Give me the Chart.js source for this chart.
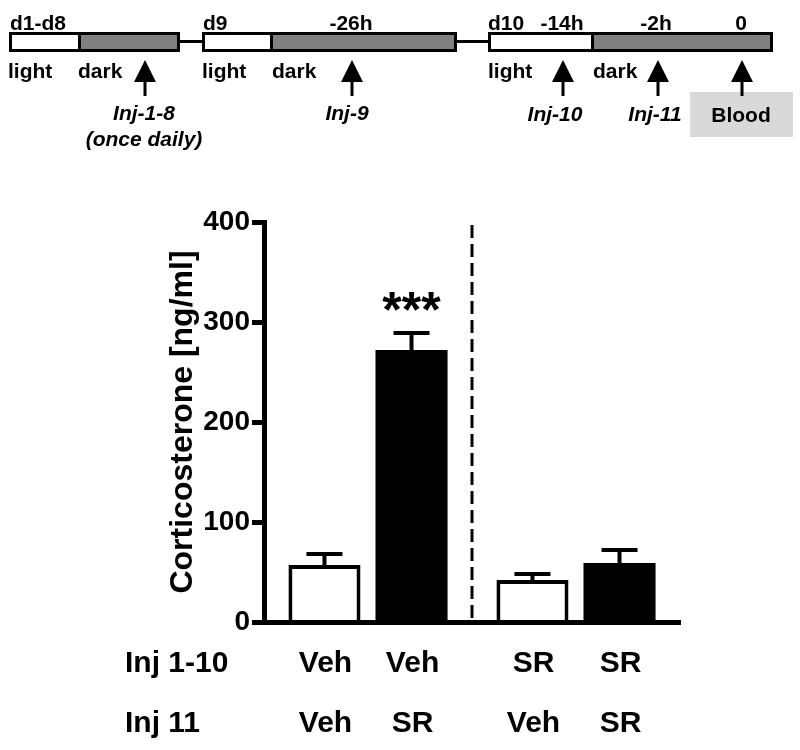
<!DOCTYPE html>
<html>
<head>
<meta charset="utf-8">
<script src="https://cdn.jsdelivr.net/npm/chart.js@4"></script>
<style>
html,body{margin:0;padding:0;background:#fff;}
#wrap{position:relative;width:800px;height:750px;overflow:hidden;font-family:'Liberation Sans',Arial,Helvetica,sans-serif;font-weight:bold;color:#000;}
#chartBox{position:absolute;left:0;top:0;width:800px;height:750px;}
.t{position:absolute;font-size:21px;line-height:1;white-space:nowrap;}
.c{transform:translateX(-50%);}
.i{font-style:italic;}
.seg{position:absolute;top:32px;height:20px;box-sizing:border-box;border:3px solid #000;}
.con{position:absolute;top:40px;height:3px;background:#000;}
.head{position:absolute;top:60px;width:0;height:0;border-left:11px solid transparent;border-right:11px solid transparent;border-bottom:22px solid #000;transform:translateX(-50%);}
.shaft{position:absolute;top:80px;width:3px;height:16px;background:#000;transform:translateX(-50%);}
#blood{position:absolute;left:690px;top:92px;width:103px;height:45px;background:#d9d9d9;}
</style>
</head>
<body>
<div id="wrap">
  <div id="chartBox"><canvas id="c"></canvas></div>

  <!-- timeline -->
  <div class="seg" style="left:9px;width:171px;background:linear-gradient(to right,#fff 0,#fff 66px,#000 66px,#000 69px,#808080 69px);"></div>
  <div class="con" style="left:180px;width:22px;"></div>
  <div class="seg" style="left:202px;width:255px;background:linear-gradient(to right,#fff 0,#fff 65px,#000 65px,#000 68px,#808080 68px);"></div>
  <div class="con" style="left:457px;width:31px;"></div>
  <div class="seg" style="left:488px;width:285px;background:linear-gradient(to right,#fff 0,#fff 100px,#000 100px,#000 103px,#808080 103px);"></div>

  <div class="t" style="left:10px;top:12px;">d1-d8</div>
  <div class="t" style="left:203px;top:12px;">d9</div>
  <div class="t c" style="left:351px;top:12px;">-26h</div>
  <div class="t" style="left:488px;top:12px;">d10</div>
  <div class="t c" style="left:562px;top:12px;">-14h</div>
  <div class="t c" style="left:656px;top:12px;">-2h</div>
  <div class="t c" style="left:741px;top:12px;">0</div>

  <div class="t" style="left:8px;top:60px;">light</div>
  <div class="t" style="left:78px;top:60px;">dark</div>
  <div class="t" style="left:202px;top:60px;">light</div>
  <div class="t" style="left:272px;top:60px;">dark</div>
  <div class="t" style="left:488px;top:60px;">light</div>
  <div class="t" style="left:593px;top:60px;">dark</div>

  <div class="head" style="left:145px;"></div><div class="shaft" style="left:145px;"></div>
  <div class="head" style="left:352px;"></div><div class="shaft" style="left:352px;"></div>
  <div class="head" style="left:563px;"></div><div class="shaft" style="left:563px;"></div>
  <div class="head" style="left:658px;"></div><div class="shaft" style="left:658px;"></div>
  <div id="blood"></div>
  <div class="head" style="left:742px;"></div><div class="shaft" style="left:742px;"></div>

  <div class="t c i" style="left:144px;top:102px;">Inj-1-8</div>
  <div class="t c i" style="left:144px;top:128px;">(once daily)</div>
  <div class="t c i" style="left:347px;top:102px;">Inj-9</div>
  <div class="t c i" style="left:555px;top:103px;">Inj-10</div>
  <div class="t c i" style="left:655px;top:103px;">Inj-11</div>
  <div class="t c" style="left:741px;top:104px;">Blood</div>
</div>

<script>
// ---- data ----
const inj1to10 = ['Veh', 'SR'];          // x categories (Inj 1-10)
const inj11 = ['Veh', 'SR'];             // datasets (Inj 11)
const meanInj11Veh = [57, 42];           // ng/ml
const meanInj11SR = [272, 59];
const semInj11Veh = [11, 6];
const semInj11SR = [17, 13];
const sigInj11Veh = ['', ''];
const sigInj11SR = ['***', ''];
const yTicks = [0, 100, 200, 300, 400];
const rowTitles = ['Inj 1-10', 'Inj 11'];
const yTitle = 'Corticosterone [ng/ml]';

const FONT = "'Liberation Sans', Arial, Helvetica, sans-serif";
const sems = [semInj11Veh, semInj11SR];
const sigs = [sigInj11Veh, sigInj11SR];

const annot = {
  id: 'annot',
  afterDatasetsDraw(chart) {
    const ctx = chart.ctx;
    const y = chart.scales.y;
    const x = chart.scales.x;
    const area = chart.chartArea;
    ctx.save();
    // dashed separator between categories
    const xs = (x.getPixelForValue(0) + x.getPixelForValue(1)) / 2;
    ctx.strokeStyle = '#000';
    ctx.lineWidth = 3;
    ctx.setLineDash([13, 6]);
    ctx.beginPath();
    ctx.moveTo(xs, area.top + 3);
    ctx.lineTo(xs, area.bottom);
    ctx.stroke();
    ctx.setLineDash([]);
    // error bars + significance
    chart.data.datasets.forEach((ds, d) => {
      const meta = chart.getDatasetMeta(d);
      meta.data.forEach((bar, i) => {
        const top = y.getPixelForValue(ds.data[i] + sems[d][i]);
        const base = y.getPixelForValue(ds.data[i]);
        ctx.lineWidth = 4;
        ctx.strokeStyle = '#000';
        ctx.beginPath();
        ctx.moveTo(bar.x, base);
        ctx.lineTo(bar.x, top);
        ctx.moveTo(bar.x - 18, top);
        ctx.lineTo(bar.x + 18, top);
        ctx.stroke();
        if (sigs[d][i]) {
          ctx.fillStyle = '#000';
          ctx.font = 'bold 50px ' + FONT;
          ctx.textAlign = 'center';
          ctx.textBaseline = 'alphabetic';
          ctx.fillText(sigs[d][i], bar.x, top - 6);
        }
      });
    });
    ctx.restore();
  },
  afterDraw(chart) {
    const ctx = chart.ctx;
    ctx.save();
    ctx.fillStyle = '#000';
    ctx.font = 'bold 30px ' + FONT;
    ctx.textBaseline = 'middle';
    const rowsY = [664, 724];
    ctx.textAlign = 'left';
    rowTitles.forEach((t, r) => ctx.fillText(t, 125, rowsY[r]));
    ctx.textAlign = 'center';
    chart.data.datasets.forEach((ds, d) => {
      const meta = chart.getDatasetMeta(d);
      meta.data.forEach((bar, i) => {
        ctx.fillText(chart.data.labels[i], bar.x + 1, rowsY[0]);
        ctx.fillText(inj11[d], bar.x + 1, rowsY[1]);
      });
    });
    ctx.restore();
  }
};

new Chart(document.getElementById('c'), {
  type: 'bar',
  data: {
    labels: inj1to10,
    datasets: [
      { label: inj11[0], data: meanInj11Veh, backgroundColor: '#fff', borderColor: '#000', borderWidth: 4 },
      { label: inj11[1], data: meanInj11SR, backgroundColor: '#000', borderColor: '#000', borderWidth: 0 }
    ]
  },
  options: {
    responsive: true,
    maintainAspectRatio: false,
    animation: false,
    devicePixelRatio: 1,
    layout: { padding: { left: 164, right: 120, top: 222, bottom: 128 } },
    datasets: { bar: { categoryPercentage: 0.837, barPercentage: 0.828 } },
    plugins: { legend: { display: false }, tooltip: { enabled: false } },
    scales: {
      x: {
        offset: true,
        ticks: { display: false },
        grid: { display: false, drawTicks: false },
        border: { display: true, color: '#000', width: 5, z: 1 },
        afterFit(s) { s.height = 0; }
      },
      y: {
        min: 0,
        max: 400,
        afterBuildTicks(s) { s.ticks = yTicks.map(v => ({ value: v })); },
        ticks: { color: '#000', font: { family: FONT, size: 28, weight: 'bold' }, padding: 2 },
        grid: { drawOnChartArea: false, drawTicks: true, tickLength: 12, tickWidth: 5, tickColor: '#000', color: '#000' },
        border: { display: true, color: '#000', width: 5, z: 1 },
        title: { display: true, text: yTitle, color: '#000', padding: 0, font: { family: FONT, size: 32, weight: 'bold' } },
        afterFit(s) { s.width = 100; }
      }
    }
  },
  plugins: [annot]
});
</script>
</body>
</html>
